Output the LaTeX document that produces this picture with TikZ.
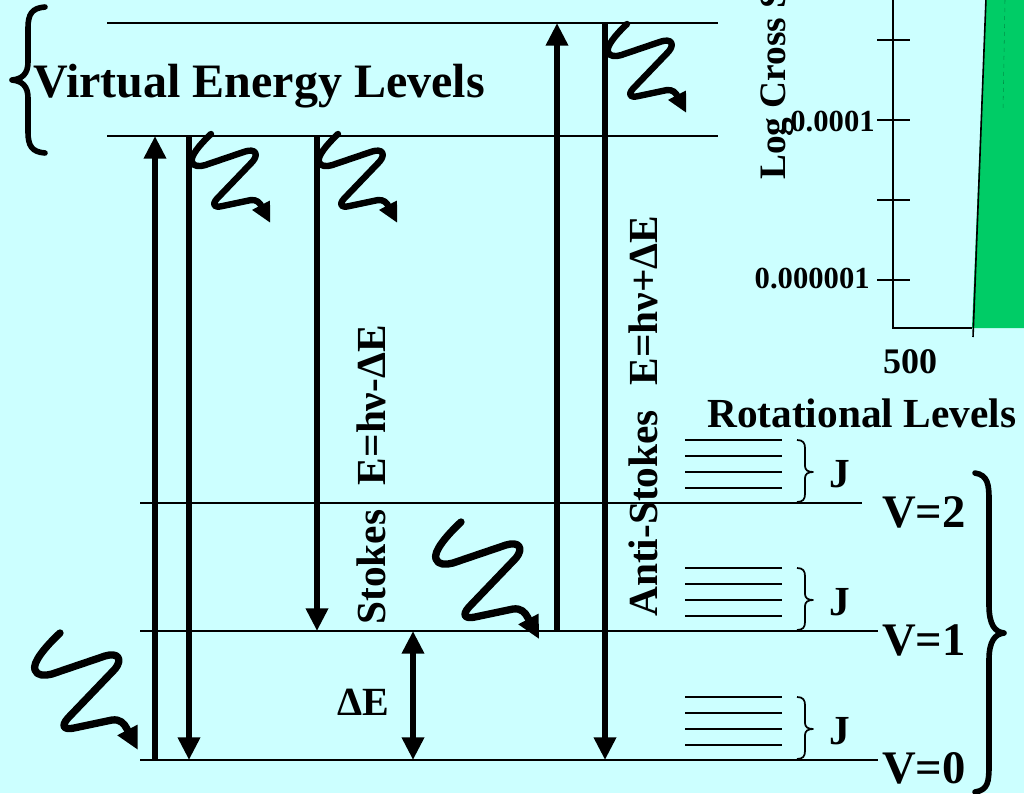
\documentclass[tikz,border=0pt]{standalone}
\usepackage{fontspec}
\setmainfont{Liberation Serif}
\usetikzlibrary{arrows.meta}
\definecolor{bg}{HTML}{CCFFFF}
\definecolor{grn}{HTML}{00CC66}
\tikzset{
  lvl/.style={line width=1.7pt},
  rotl/.style={line width=1.5pt},
  bigarrow/.style={line width=4.5pt, -{Triangle[length=17pt,width=16pt]}},
  dblarrow/.style={line width=4.5pt, {Triangle[length=17pt,width=16pt]}-{Triangle[length=17pt,width=16pt]}},
  wvbig/.style={line width=5.5pt, line cap=round, line join=round, -{Triangle[length=17pt,width=16pt]}},
  wvsmall/.style={line width=4.8pt, line cap=round, line join=round, -{Triangle[length=15pt,width=14pt]}},
  bracestyle/.style={line width=4.2pt, line cap=round, line join=round},
  jbracestyle/.style={line width=1.3pt, line join=round},
  lbl/.style={inner sep=0pt, font=\bfseries\fontsize{31}{31}\selectfont},
  lblbig/.style={inner sep=0pt, font=\bfseries\fontsize{35}{35}\selectfont},
  lblsmall/.style={inner sep=0pt, font=\bfseries\fontsize{23}{23}\selectfont},
  wave/.pic={\draw (0,0) .. controls (-15,14) and (-28,30) .. (-25,37) .. controls (-23,43) and (-15,43) .. (-8,41) -- (45,23) .. controls (58,19) and (63,26) .. (55,36) -- (8,85) .. controls (0,94) and (5,97) .. (14,95) -- (52,87) .. controls (60,86) and (64,90) .. (67,96) -- (78,117);},
  jbrace/.pic={\draw[jbracestyle] (0,0) .. controls (6,0) and (8,3) .. (8,8) -- (8,26) .. controls (8,30) and (11,32) .. (16,32) .. controls (11,32) and (8,34) .. (8,38) -- (8,54) .. controls (8,59) and (6,62) .. (0,62);},
  rotset/.pic={\draw[rotl] (0,0) -- (97,0) (0,16) -- (97,16) (0,32) -- (97,32) (0,48) -- (97,48);}
}
\begin{document}
\begin{tikzpicture}[x={(0.75pt,0pt)},y={(0pt,-0.75pt)}]
\useasboundingbox (0,0) rectangle (1024,793);
\fill[bg] (0,0) rectangle (1024,793);
\begin{scope}
\clip (0,0) rectangle (1024,793);
% graph in upper right
\fill[grn] (972,328) -- (986,-2) -- (1026,-2) -- (1026,328) -- cycle;
\draw[line width=1.2pt] (973,337) -- (986,-2);
\draw[line width=0.4pt, dashed, grn!70!black] (1005,0) -- (1003,110);
\draw[line width=1.7pt] (893,-2) -- (893,328) -- (972,328);
\foreach \ty in {40,120,200,280} \draw[line width=1.7pt] (877,\ty) -- (910,\ty);
\node[lbl, font=\bfseries\fontsize{28}{28}\selectfont, rotate=90, anchor=base west] (ylab) at (785,180) {Log Cross Section};
\node[lblsmall, anchor=base east] (t1) at (875,131) {0.0001};
\node[lblsmall, anchor=base east] (t2) at (870,288) {0.000001};
\node[lbl, font=\bfseries\fontsize{27}{27}\selectfont, anchor=base] (x500) at (910,373) {500};
\end{scope}

% virtual levels
\draw[lvl] (107,23) -- (718,23);
\draw[lvl] (107,136) -- (718,136);
\draw[bracestyle] (45,7) .. controls (32,8) and (28,14) .. (28,28) -- (28,62) .. controls (28,74) and (22,79) .. (12,80) .. controls (22,81) and (28,86) .. (28,98) -- (28,132) .. controls (28,146) and (32,152) .. (45,153);
\node[lblbig, font=\bfseries\fontsize{36}{36}\selectfont, anchor=base west] (vel) at (33,97) {Virtual Energy Levels};

% vibrational levels
\draw[lvl] (140,503) -- (862,503);
\draw[lvl] (140,631) -- (878,631);
\draw[lvl] (140,760) -- (878,760);
\node[lblbig, anchor=base west] (v2) at (882,527) {V=2};
\node[lblbig, anchor=base west] (v1) at (882,655) {V=1};
\node[lblbig, anchor=base west] (v0) at (882,783) {V=0};
\draw[bracestyle] (975,473) .. controls (988,475) and (989,485) .. (989,500) -- (989,605) .. controls (989,625) and (995,632) .. (1004,633) .. controls (995,634) and (989,641) .. (989,660) -- (989,765) .. controls (989,782) and (988,790) .. (975,792);

% rotational levels
\node[lbl, anchor=base west] (rl) at (707,427) {Rotational Levels};
\pic at (685,440) {rotset};
\pic at (685,568) {rotset};
\pic at (685,697) {rotset};
\pic at (797,440) {jbrace};
\pic at (797,568) {jbrace};
\pic at (797,697) {jbrace};
\node[lbl, anchor=base west] (j2) at (829,487) {J};
\node[lbl, anchor=base west] (j1) at (829,615) {J};
\node[lbl, anchor=base west] (j0) at (829,744) {J};

% transition arrows
\coordinate (a1s) at (155,760); \coordinate (a1e) at (155,136);
\coordinate (a2s) at (189,136); \coordinate (a2e) at (189,760);
\coordinate (a3s) at (317,136); \coordinate (a3e) at (317,631);
\coordinate (a4s) at (557,631); \coordinate (a4e) at (557,23);
\coordinate (a5s) at (605,23);  \coordinate (a5e) at (605,760);
\coordinate (d1) at (413,631);  \coordinate (d2) at (413,760);
\draw[bigarrow] (a1s) -- (a1e);
\draw[bigarrow] (a2s) -- (a2e);
\draw[bigarrow] (a3s) -- (a3e);
\draw[bigarrow] (a4s) -- (a4e);
\draw[bigarrow] (a5s) -- (a5e);
\draw[dblarrow] (d1) -- (d2);
\node[lbl, font=\bfseries\fontsize{30}{30}\selectfont, anchor=base west] (de) at (337,715) {ΔE};

% photons
\pic[wvbig] at (60,633) {wave};
\pic[wvbig] at (461,522) {wave};
\pic[wvsmall, scale=0.76] at (211,134) {wave};
\pic[wvsmall, scale=0.76] at (338,134) {wave};
\pic[wvsmall, scale=0.76] at (627,24) {wave};

% rotated labels
\node[lbl, rotate=90, anchor=base west] (stk) at (385,625) {Stokes\hspace{0.6em}E=hν-ΔE};
\node[lbl, rotate=90, anchor=base west] (astk) at (657,617) {Anti-Stokes\hspace{0.6em}E=hν+ΔE};
\end{tikzpicture}
\end{document}
